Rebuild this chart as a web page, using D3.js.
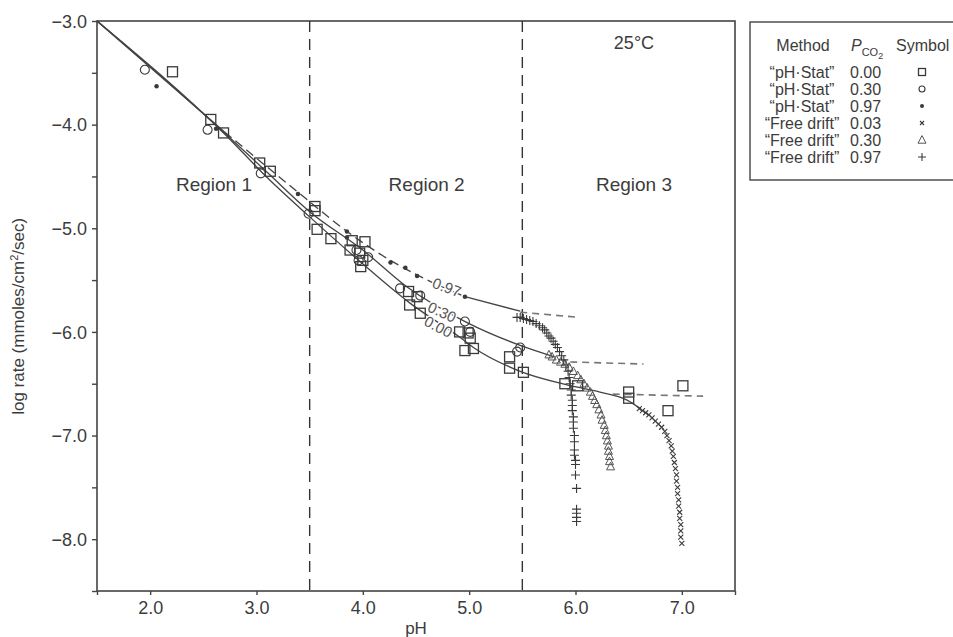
<!DOCTYPE html>
<html><head><meta charset="utf-8">
<script src="https://cdn.jsdelivr.net/npm/d3@7"></script>
<style>
html,body{margin:0;padding:0;background:#fff;}
svg text{font-family:"Liberation Sans",Arial,Helvetica,sans-serif;fill:#3c3c3c;}
</style></head>
<body>
<svg id="c" width="953" height="637"></svg>
<script>
// ---------- data ----------
const xTickValues = [1.5, 2, 3, 4, 5, 6, 7, 7.5];
const yTickValues = [-8.5, -8, -7.5, -7, -6.5, -6, -5.5, -5, -4.5, -4, -3.5, -3];
const regionBounds = [3.5, 5.5];
const regionLabels = ["Region 1", "Region 2", "Region 3"];
const regionLabelPH = [2.6, 4.6, 6.55];

// model curves (pH, log rate)
const curve097 = [[1.5,-3.0],[2.7,-4.07],[3.4,-4.66],[3.85,-5.03],[4.26,-5.31],[4.51,-5.45],[4.96,-5.66],[5.48,-5.80]];
const curve030 = [[1.5,-3.0],[2.7,-4.08],[3.1,-4.46],[3.5,-4.84],[4.0,-5.21],[4.42,-5.57],[4.98,-5.91],[5.48,-6.13],[5.8,-6.24]];
const curve000 = [[1.5,-3.0],[2.7,-4.09],[3.1,-4.51],[3.5,-4.89],[3.95,-5.30],[4.44,-5.72],[4.91,-6.05],[5.04,-6.15],[5.48,-6.38],[5.92,-6.51],[6.23,-6.58],[6.49,-6.66],[6.61,-6.74]];
const dash097 = [[5.48,-5.81],[6.04,-5.86]];
const dash030 = [[5.95,-6.29],[6.64,-6.31]];
const dash000 = [[6.35,-6.60],[7.2,-6.62]];
const curveLabels = ["0.97", "0.30", "0.00"];
const curveLabelPH = [4.79, 4.745, 4.71];
const curveLabelLog = [-5.57, -5.81, -5.95];
const curveLabelAngle = [20, 25, 28];

// pH-stat data
const stat000 = [[2.21,-3.49],[2.57,-3.95],[2.69,-4.08],[3.03,-4.37],[3.13,-4.45],[3.55,-4.79],[3.55,-4.83],[3.57,-5.01],[3.70,-5.10],
  [3.90,-5.12],[4.02,-5.13],[3.88,-5.21],[3.97,-5.24],[4.00,-5.31],[3.98,-5.37],[4.43,-5.61],[4.51,-5.66],[4.44,-5.74],[4.54,-5.82],
  [4.91,-6.00],[4.99,-6.01],[5.01,-6.06],[4.96,-6.18],[5.04,-6.16],[5.38,-6.24],[5.38,-6.35],[5.51,-6.39],[5.90,-6.50],[6.02,-6.52],
  [6.50,-6.58],[6.50,-6.64],[7.01,-6.52],[6.87,-6.76]];
const stat030 = [[1.95,-3.47],[2.54,-4.05],[3.04,-4.47],[3.49,-4.86],[3.94,-5.21],[4.05,-5.28],[3.96,-5.31],[4.35,-5.58],[4.54,-5.65],
  [4.96,-5.90],[5.01,-6.00],[5.48,-6.15],[5.45,-6.19]];
const stat097 = [[2.06,-3.63],[2.62,-4.04],[3.39,-4.67],[3.85,-5.03],[3.85,-5.09],[4.26,-5.33],[4.40,-5.38],[4.51,-5.46],[4.96,-5.66]];

// free drift data
const drift097 = [[5.45,-5.86],[5.48,-5.86],[5.51,-5.87],[5.54,-5.88],[5.57,-5.89],[5.60,-5.90],[5.63,-5.92],[5.66,-5.94],[5.69,-5.96],
  [5.71,-5.98],[5.73,-6.01],[5.75,-6.04],[5.77,-6.06],[5.79,-6.09],[5.81,-6.12],[5.83,-6.15],[5.85,-6.19],[5.87,-6.23],[5.89,-6.27],
  [5.91,-6.32],[5.93,-6.38],[5.94,-6.44],[5.95,-6.50],[5.96,-6.56],[5.96,-6.61],[5.97,-6.66],[5.97,-6.71],[5.97,-6.76],[5.98,-6.82],
  [5.98,-6.87],[5.98,-6.93],[5.99,-7.00],[5.99,-7.06],[5.99,-7.14],[5.99,-7.19],[6.00,-7.24],[6.00,-7.28],[6.00,-7.38],[6.01,-7.51],
  [6.01,-7.71],[6.01,-7.75],[6.01,-7.79],[6.01,-7.83]];
const drift030 = [[5.75,-6.22],[5.78,-6.24],[5.82,-6.27],[5.86,-6.29],[5.90,-6.31],[5.94,-6.34],[5.98,-6.38],[6.02,-6.42],[6.05,-6.46],
  [6.08,-6.50],[6.11,-6.54],[6.14,-6.58],[6.16,-6.62],[6.18,-6.66],[6.20,-6.70],[6.22,-6.75],[6.24,-6.80],[6.25,-6.85],[6.27,-6.90],
  [6.28,-6.95],[6.29,-7.00],[6.30,-7.05],[6.31,-7.10],[6.31,-7.15],[6.32,-7.20],[6.32,-7.25],[6.33,-7.30]];
const drift003 = [[6.60,-6.74],[6.63,-6.76],[6.66,-6.78],[6.69,-6.80],[6.72,-6.83],[6.75,-6.86],[6.78,-6.89],[6.81,-6.92],[6.84,-6.96],
  [6.86,-7.00],[6.88,-7.05],[6.90,-7.10],[6.91,-7.15],[6.92,-7.20],[6.93,-7.26],[6.94,-7.32],[6.95,-7.38],[6.95,-7.44],[6.96,-7.50],
  [6.96,-7.56],[6.97,-7.62],[6.97,-7.68],[6.98,-7.74],[6.98,-7.80],[6.99,-7.86],[6.99,-7.92],[6.99,-7.98],[7.00,-8.04]];

// legend
const legendMethods = ["\u201CpH\u00B7Stat\u201D","\u201CpH\u00B7Stat\u201D","\u201CpH\u00B7Stat\u201D","\u201CFree drift\u201D","\u201CFree drift\u201D","\u201CFree drift\u201D"];
const legendPco2 = ["0.00","0.30","0.97","0.03","0.30","0.97"];
const legendSymbols = ["square","circle","dot","cross","triangle","plus"];

// ---------- drawing ----------
const svg = d3.select("#c");
const ink = "#3a3a3a";
const x = d3.scaleLinear().domain([1.5, 7.5]).range([97, 735]);
const y = d3.scaleLinear().domain([-8.5, -3.0]).range([591, 21]);

// symbol painters
function drawSym(g, type, s) {
  if (type === "square") g.append("rect").attr("x",-s/2).attr("y",-s/2).attr("width",s).attr("height",s).attr("fill","none").attr("stroke",ink).attr("stroke-width",1.3);
  else if (type === "circle") g.append("circle").attr("r",s/2).attr("fill","none").attr("stroke",ink).attr("stroke-width",1.1);
  else if (type === "dot") g.append("circle").attr("r",s/2).attr("fill",ink);
  else if (type === "cross") g.append("path").attr("d",`M${-s/2},${-s/2}L${s/2},${s/2}M${-s/2},${s/2}L${s/2},${-s/2}`).attr("stroke",ink).attr("stroke-width",1.1);
  else if (type === "triangle") g.append("path").attr("d",`M0,${-s*0.55}L${s*0.5},${s*0.4}L${-s*0.5},${s*0.4}Z`).attr("fill","none").attr("stroke","#555").attr("stroke-width",1);
  else if (type === "plus") g.append("path").attr("d",`M${-s/2},0H${s/2}M0,${-s/2}V${s/2}`).attr("stroke",ink).attr("stroke-width",1.1);
}

// frame
svg.append("rect").attr("x",x(1.5)).attr("y",y(-3)).attr("width",x(7.5)-x(1.5)).attr("height",y(-8.5)-y(-3))
  .attr("fill","none").attr("stroke","#444").attr("stroke-width",1.6);

// axes
const yAxis = d3.axisLeft(y).tickValues(yTickValues).tickSize(5).tickSizeOuter(0)
  .tickFormat(d => Number.isInteger(d) ? d3.format(".1f")(d).replace("-", "\u2212") : "");
const gy = svg.append("g").attr("transform",`translate(${x(1.5)},0)`).call(yAxis);
gy.select(".domain").remove();
gy.selectAll("line").attr("stroke","#444").attr("stroke-width",1.4);
gy.selectAll("text").attr("font-size",18).attr("x",-10).attr("dy","0.35em").style("fill","#3c3c3c");

const xAxis = d3.axisBottom(x).tickValues(xTickValues).tickSize(4).tickSizeOuter(0)
  .tickFormat(d => (d === 1.5 || d === 7.5) ? "" : d3.format(".1f")(d));
const gx = svg.append("g").attr("transform",`translate(0,${y(-8.5)})`).call(xAxis);
gx.select(".domain").remove();
gx.selectAll("line").attr("stroke","#444").attr("stroke-width",1.4);
gx.selectAll("text").attr("font-size",18).attr("y",10).attr("dy","0.71em").style("fill","#3c3c3c");

// axis titles
svg.append("text").attr("x",(x(1.5)+x(7.5))/2).attr("y",634).attr("text-anchor","middle").attr("font-size",17).text("pH");
const yt = svg.append("text").attr("transform",`translate(24,${y(-5.85)}) rotate(-90)`).attr("text-anchor","middle").attr("font-size",17);
yt.append("tspan").text("log rate (mmoles/cm");
yt.append("tspan").attr("baseline-shift","super").attr("font-size",11).text("2");
yt.append("tspan").text("/sec)");

// region boundaries
svg.selectAll(".rb").data(regionBounds).enter().append("line")
  .attr("x1",d=>x(d)).attr("x2",d=>x(d)).attr("y1",y(-3)).attr("y2",y(-8.5))
  .attr("stroke","#333").attr("stroke-width",1.4).attr("stroke-dasharray","11,7");

svg.selectAll(".rl").data(regionLabels).enter().append("text")
  .attr("x",(d,i)=>x(regionLabelPH[i])).attr("y",y(-4.64)).attr("text-anchor","middle").attr("font-size",19).text(d=>d);

svg.append("text").attr("x",x(6.55)).attr("y",y(-3.27)).attr("text-anchor","middle").attr("font-size",18).text("25\u00B0C");

// curves
const line = d3.line().x(d=>x(d[0])).y(d=>y(d[1])).curve(d3.curveMonotoneX);
const lineStraight = d3.line().x(d=>x(d[0])).y(d=>y(d[1]));
svg.append("path").attr("d",line(curve000)).attr("fill","none").attr("stroke","#444").attr("stroke-width",1.3);
svg.append("path").attr("d",line(curve030)).attr("fill","none").attr("stroke","#444").attr("stroke-width",1.3);
svg.append("path").attr("d",line(curve097.filter(d=>d[0]<=2.7))).attr("fill","none").attr("stroke","#444").attr("stroke-width",1.3);
svg.append("path").attr("d",line(curve097.filter(d=>d[0]>=2.7 && d[0]<=4.96))).attr("fill","none").attr("stroke","#444").attr("stroke-width",1.3).attr("stroke-dasharray","9,5");
svg.append("path").attr("d",line(curve097.filter(d=>d[0]>=4.96))).attr("fill","none").attr("stroke","#444").attr("stroke-width",1.3);
[dash097, dash030, dash000].forEach(dd => {
  svg.append("path").attr("d",lineStraight(dd)).attr("fill","none").attr("stroke","#777").attr("stroke-width",1.6).attr("stroke-dasharray","7,5");
});

// curve labels
svg.selectAll(".cl").data(curveLabels).enter().append("text")
  .attr("transform",(d,i)=>`translate(${x(curveLabelPH[i])},${y(curveLabelLog[i])}) rotate(${curveLabelAngle[i]})`)
  .attr("text-anchor","middle").attr("dy","0.35em").attr("font-size",15)
  .attr("stroke","#fff").attr("stroke-width",3).attr("paint-order","stroke").style("fill","#555").text(d=>d);

// markers
function plotSet(data, type, s) {
  svg.append("g").selectAll("g").data(data).enter().append("g")
    .attr("transform",d=>`translate(${x(d[0])},${y(d[1])})`).each(function(){ drawSym(d3.select(this), type, s); });
}
plotSet(drift003, "cross", 5);
plotSet(drift030, "triangle", 8);
plotSet(drift097, "plus", 9);
plotSet(stat000, "square", 10);
plotSet(stat030, "circle", 9);
plotSet(stat097, "dot", 4.5);

// legend
const lg = svg.append("g");
lg.append("rect").attr("x",750).attr("y",22).attr("width",215).attr("height",158).attr("fill","#fff").attr("stroke","#444").attr("stroke-width",1.4);
lg.append("text").attr("x",803).attr("y",51).attr("text-anchor","middle").attr("font-size",16).text("Method");
const pt = lg.append("text").attr("x",851).attr("y",51).attr("font-size",16);
pt.append("tspan").attr("font-style","italic").text("P");
pt.append("tspan").attr("font-size",11).attr("dy",5).text("CO");
pt.append("tspan").attr("font-size",9).attr("dy",3).text("2");
lg.append("text").attr("x",896).attr("y",51).attr("font-size",16).text("Symbol");
const rowY = d3.range(legendMethods.length).map(i => 72 + i*17);
lg.selectAll(".lm").data(legendMethods).enter().append("text")
  .attr("x",802).attr("y",(d,i)=>rowY[i]).attr("dy","0.35em").attr("text-anchor","middle").attr("font-size",16).text(d=>d);
lg.selectAll(".lp").data(legendPco2).enter().append("text")
  .attr("x",850).attr("y",(d,i)=>rowY[i]).attr("dy","0.35em").attr("font-size",16).text(d=>d);
lg.selectAll(".ls").data(legendSymbols).enter().append("g")
  .attr("transform",(d,i)=>`translate(922,${rowY[i]})`).each(function(d){
    const sz = {square:7, circle:6, dot:4, cross:4, triangle:8, plus:8}[d];
    drawSym(d3.select(this), d, sz);
  });
</script>
</body></html>
